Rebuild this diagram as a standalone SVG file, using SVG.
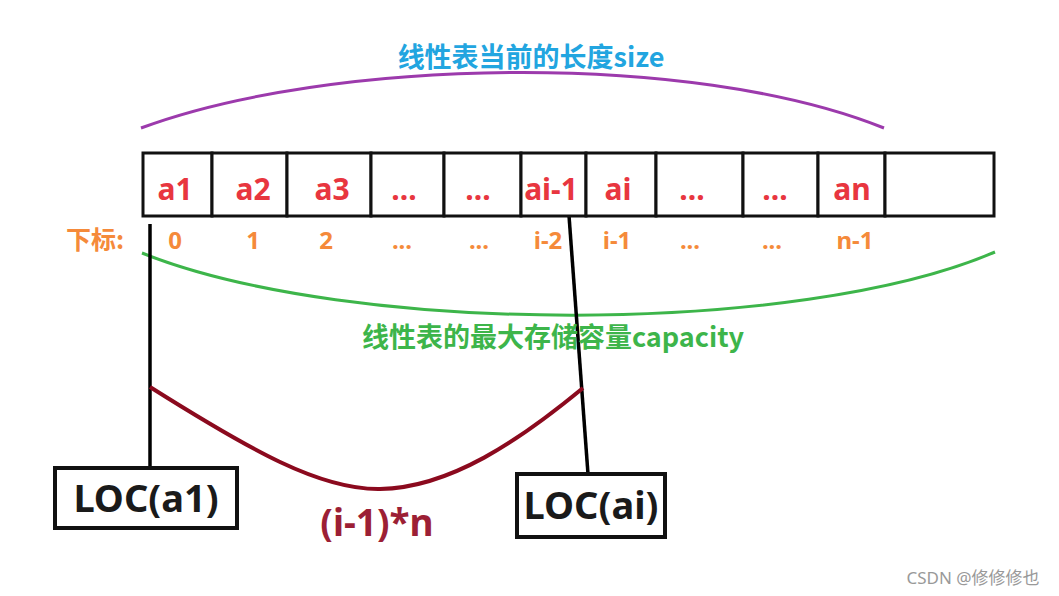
<svg xmlns="http://www.w3.org/2000/svg" width="1059" height="596" viewBox="0 0 1059 596">
<style>
.cell{fill:#fff;stroke:#111;stroke-width:3}
.val{font-family:"Noto Sans","Noto Sans CJK SC",sans-serif;font-weight:bold;font-size:30px;fill:#e8363f;text-anchor:middle}
.idx{font-family:"Noto Sans","Noto Sans CJK SC",sans-serif;font-weight:bold;font-size:24px;fill:#f58a3a;text-anchor:middle}
.loc{fill:#fff;stroke:#111;stroke-width:4}
.loct{font-family:"Noto Sans","Noto Sans CJK SC",sans-serif;font-weight:bold;font-size:38px;fill:#1a1a1a;text-anchor:middle}
.ptr{fill:none;stroke:#000;stroke-width:3.5}
</style>
<rect width="1059" height="596" fill="#fff"/>
<g id="connectors">
<path d="M141,128 C330,58 690,50 884,128" fill="none" stroke="#9c3aac" stroke-width="3"/>
<path d="M142,253 C350,336 800,336 995,252" fill="none" stroke="#3db54a" stroke-width="3"/>
<line class="ptr" x1="150" y1="224" x2="150" y2="468"/>
<line class="ptr" x1="568" y1="202" x2="588" y2="474"/>
<path d="M150,387 C250,450 320,490 380,489 C450,488 520,440 583,388" fill="none" stroke="#8b0a1e" stroke-width="4"/>
</g>
<g id="title-size"><text x="531" y="67" font-family="Noto Sans CJK SC,sans-serif" font-weight="bold" font-size="27" fill="#22a5e0" text-anchor="middle">线性表当前的长度size</text></g>
<g id="title-capacity"><text x="553" y="347" font-family="Noto Sans CJK SC,sans-serif" font-weight="bold" font-size="27" fill="#3db54a" text-anchor="middle">线性表的最大存储容量capacity</text></g>
<g id="array">
<rect class="cell" x="143" y="153" width="69" height="63"/>
<rect class="cell" x="212" y="153" width="75" height="63"/>
<rect class="cell" x="287" y="153" width="84" height="63"/>
<rect class="cell" x="371" y="153" width="73" height="63"/>
<rect class="cell" x="444" y="153" width="77" height="63"/>
<rect class="cell" x="521" y="153" width="65" height="63"/>
<rect class="cell" x="586" y="153" width="70" height="63"/>
<rect class="cell" x="656" y="153" width="87" height="63"/>
<rect class="cell" x="743" y="153" width="75" height="63"/>
<rect class="cell" x="818" y="153" width="67" height="63"/>
<rect class="cell" x="885" y="153" width="109" height="63"/>
<text class="val" x="175" y="200">a1</text>
<text class="val" x="253" y="200">a2</text>
<text class="val" x="332" y="200">a3</text>
<text class="val" x="404" y="200">...</text>
<text class="val" x="478" y="200">...</text>
<text class="val" x="551" y="200">ai-1</text>
<text class="val" x="618" y="200">ai</text>
<text class="val" x="692" y="200">...</text>
<text class="val" x="775" y="200">...</text>
<text class="val" x="852" y="200">an</text>
</g>
<g id="indices">
<text x="95" y="249" font-family="Noto Sans CJK SC,sans-serif" font-weight="bold" font-size="25" fill="#f58a3a" text-anchor="middle">下标:</text>
<text class="idx" x="175" y="249">0</text>
<text class="idx" x="253" y="249">1</text>
<text class="idx" x="326" y="249">2</text>
<text class="idx" x="402" y="249">...</text>
<text class="idx" x="479" y="249">...</text>
<text class="idx" x="548" y="249">i-2</text>
<text class="idx" x="617" y="249">i-1</text>
<text class="idx" x="690" y="249">...</text>
<text class="idx" x="772" y="249">...</text>
<text class="idx" x="855" y="249">n-1</text>
</g>
<g id="loc-a1">
<rect class="loc" x="55" y="468" width="182" height="60"/>
<text class="loct" x="146" y="512">LOC(a1)</text>
</g>
<g id="loc-ai">
<rect class="loc" x="517" y="474" width="148" height="63"/>
<text class="loct" x="591" y="519">LOC(ai)</text>
</g>
<g id="offset-label"><text x="377" y="536" font-family="Noto Sans,sans-serif" font-weight="bold" font-size="37" fill="#9c1f35" text-anchor="middle">(i-1)*n</text></g>
<g id="watermark"><text x="973" y="584" font-family="Noto Sans,Noto Sans CJK SC,sans-serif" font-size="17" fill="#999" text-anchor="middle">CSDN @修修修也</text></g>
</svg>
